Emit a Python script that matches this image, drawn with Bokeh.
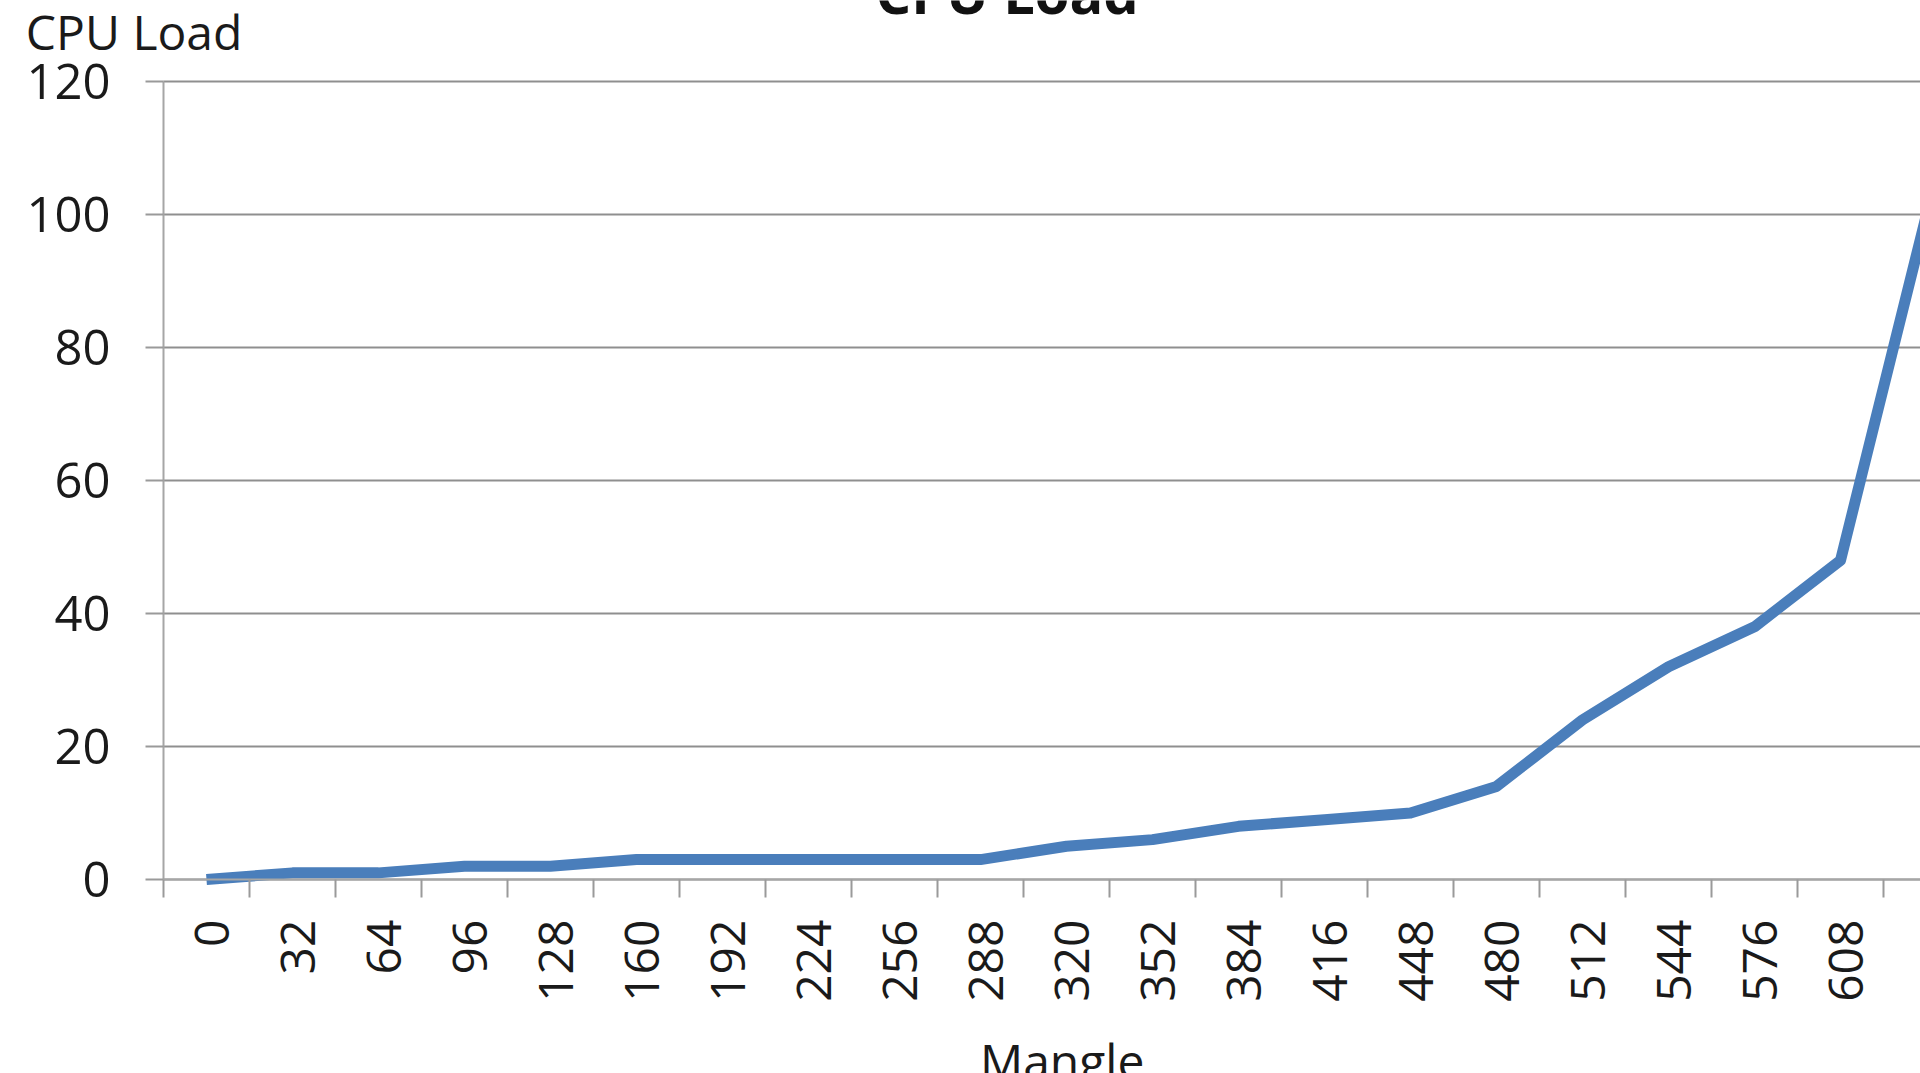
import math
from bokeh.plotting import figure
from bokeh.models import FixedTicker, Range1d
from bokeh.core.properties import value
from bokeh.embed import file_html
from bokeh.resources import INLINE

# ---- data ----
categories = ["0", "32", "64", "96", "128", "160", "192", "224", "256", "288",
              "320", "352", "384", "416", "448", "480", "512", "544", "576", "608", "640"]
cpu_load = [0, 1, 1, 2, 2, 3, 3, 3, 3, 3, 5, 6, 8, 9, 10, 14, 24, 32, 38, 48, 100]
y_ticks = [0, 20, 40, 60, 80, 100, 120]
title_text = "CPU Load"
y_title = "CPU Load"
x_title = "Mangle"

FONT = "Open Sans"
idx = list(range(len(categories)))
y_max = y_ticks[-1]
x_left_edge = -0.5
x_right_edge = len(categories) - 0.5
LABEL_NUDGE = 0.06  # small visual shift of rotated category labels

W, H = 1920, 1073
X_START, X_END = -2.395, 19.93
Y_START, Y_END = -29.17, 132.18

p = figure(width=W, height=H, output_backend="svg", toolbar_location=None,
           x_range=Range1d(X_START, X_END), y_range=Range1d(Y_START, Y_END),
           min_border=0, min_border_left=0, min_border_right=0,
           min_border_top=0, min_border_bottom=0)
p.outline_line_color = None
p.background_fill_color = "white"
p.border_fill_color = "white"
p.xgrid.visible = False
p.ygrid.visible = False

# horizontal gridlines across the category span
p.segment(x0=[x_left_edge] * len(y_ticks), x1=[x_right_edge] * len(y_ticks),
          y0=y_ticks, y1=y_ticks, line_color="#8f8f8f", line_width=2)

p.line(idx, cpu_load, line_width=11, line_color="#4A7EBB", line_join="round")

# x axis: labels at category centres, ticks at category boundaries
label_pos = [i + LABEL_NUDGE for i in idx]
xa = p.xaxis[0]
xa.fixed_location = 0
xa.bounds = (x_left_edge, X_END)
xa.ticker = FixedTicker(ticks=label_pos, minor_ticks=[i - 0.5 for i in range(len(categories) + 1)])
xa.major_label_overrides = {pos: c for pos, c in zip(label_pos, categories)}
xa.major_label_orientation = math.pi / 2
xa.major_tick_out = 0
xa.major_tick_in = 0
xa.minor_tick_out = 18
xa.minor_tick_in = 0
xa.minor_tick_line_color = "#9a9a9a"
xa.minor_tick_line_width = 2
xa.axis_line_color = "#a6a6a6"
xa.axis_line_width = 2
xa.major_label_standoff = 22
xa.major_label_text_font = FONT
xa.major_label_text_font_size = "48px"
xa.major_label_text_color = "#1a1a1a"

ya = p.yaxis[0]
ya.fixed_location = x_left_edge
ya.bounds = (0, y_max)
ya.ticker = FixedTicker(ticks=y_ticks, minor_ticks=[])
ya.major_tick_out = 18
ya.major_tick_in = 0
ya.major_tick_line_color = "#9a9a9a"
ya.major_tick_line_width = 2
ya.axis_line_color = "#a6a6a6"
ya.axis_line_width = 2
ya.major_label_standoff = 35
ya.major_label_text_font = FONT
ya.major_label_text_font_size = "49px"
ya.major_label_text_color = "#1a1a1a"

# texts (inside the frame, which covers the whole canvas)
p.text(x=[9.31], y=[130.2], text=[title_text], text_font=value(FONT),
       text_font_style="bold", text_font_size="56px", text_align="center",
       text_baseline="alphabetic", y_offset=-22, text_color="#111111")
p.text(x=[-2.1], y=[124.8], text=[y_title], text_font=value(FONT),
       text_font_size="48px", text_align="left", text_baseline="alphabetic",
       y_offset=-18, text_color="#1a1a1a")
p.text(x=[9.95], y=[-25.3], text=[x_title], text_font=value(FONT),
       text_font_size="48px", text_align="center", text_baseline="top",
       y_offset=-20, text_color="#1a1a1a")

open("out.html", "w").write(file_html(p, INLINE))
